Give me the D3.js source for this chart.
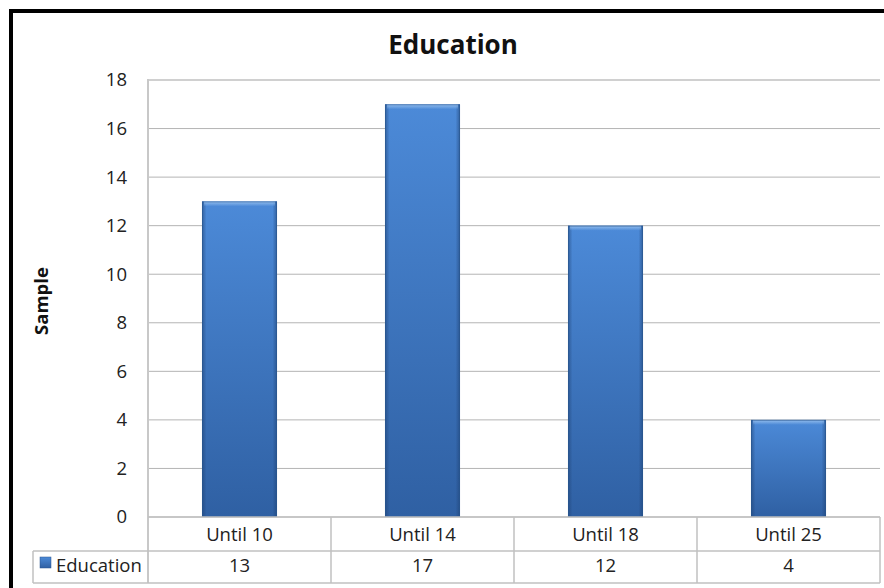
<!DOCTYPE html>
<html><head><meta charset="utf-8">
<script src="https://cdn.jsdelivr.net/npm/d3@7"></script>
<style>
html,body{margin:0;padding:0;background:#fff;}
svg{display:block;font-family:"Open Sans","Noto Sans",sans-serif;}
</style></head>
<body>
<svg id="chart" width="884" height="588"></svg>
<script>
const categories = ["Until 10", "Until 14", "Until 18", "Until 25"];
const values = [13, 17, 12, 4];
const seriesName = "Education";
const yTicks = [0, 2, 4, 6, 8, 10, 12, 14, 16, 18];
const title = "Education";
const yTitle = "Sample";

const svg = d3.select("#chart");
const W = 884, H = 588;
const plot = {left: 148, right: 880, top: 80, bottom: 517};
const row1 = 551, row2 = 583;
const FONT = "'Open Sans','Noto Sans',sans-serif";
const FS = 18.5;

svg.append("rect").attr("width", W).attr("height", H).attr("fill", "#fff");

const defs = svg.append("defs");
const gv = defs.append("linearGradient").attr("id", "gv").attr("x1", 0).attr("y1", 0).attr("x2", 0).attr("y2", 1);
gv.append("stop").attr("offset", "0%").attr("stop-color", "#4c8ad8");
gv.append("stop").attr("offset", "100%").attr("stop-color", "#2f60a3");
const gh = defs.append("linearGradient").attr("id", "gh").attr("x1", 0).attr("y1", 0).attr("x2", 1).attr("y2", 0);
gh.append("stop").attr("offset", "0%").attr("stop-color", "#1d3f70").attr("stop-opacity", 0.55);
gh.append("stop").attr("offset", "6%").attr("stop-color", "#1d3f70").attr("stop-opacity", 0.0);
gh.append("stop").attr("offset", "94%").attr("stop-color", "#1d3f70").attr("stop-opacity", 0.0);
gh.append("stop").attr("offset", "100%").attr("stop-color", "#1d3f70").attr("stop-opacity", 0.55);
const gt = defs.append("linearGradient").attr("id", "gt").attr("x1", 0).attr("y1", 0).attr("x2", 0).attr("y2", 1);
gt.append("stop").attr("offset", "0%").attr("stop-color", "#9cc4f0").attr("stop-opacity", 0.9);
gt.append("stop").attr("offset", "100%").attr("stop-color", "#9cc4f0").attr("stop-opacity", 0);

const x = d3.scaleBand().domain(categories).range([plot.left, plot.right]).paddingInner(0.59).paddingOuter(0.295);
const y = d3.scaleLinear().domain([0, 18]).range([plot.bottom, plot.top]);
const cellW = x.step();
const cellX = d => x(d) - (x.step() - x.bandwidth()) / 2;

// gridlines
svg.append("g").selectAll("line").data(yTicks).join("line")
  .attr("x1", plot.left).attr("x2", plot.right)
  .attr("y1", d => y(d)).attr("y2", d => y(d))
  .attr("stroke", d => d === 18 ? "#d0d0d0" : "#b4b4b4").attr("stroke-width", d => d === 18 ? 2 : 1);

// left axis line
svg.append("line").attr("x1", plot.left).attr("x2", plot.left).attr("y1", plot.top - 1).attr("y2", row2)
  .attr("stroke", "#c8c8c8").attr("stroke-width", 2);

// y tick labels via axis
const yAxis = svg.append("g").attr("transform", `translate(${plot.left},0)`)
  .call(d3.axisLeft(y).tickValues(yTicks).tickSize(0).tickPadding(21));
yAxis.select(".domain").remove();
yAxis.selectAll("text").attr("font-size", FS).attr("fill", "#222").attr("font-family", FONT);

// bars
const bars = svg.append("g");
bars.selectAll("rect.b").data(values).join("rect").attr("class", "b")
  .attr("x", (d, i) => x(categories[i])).attr("width", x.bandwidth())
  .attr("y", d => y(d)).attr("height", d => plot.bottom - y(d))
  .attr("fill", "url(#gv)");
bars.selectAll("rect.h").data(values).join("rect").attr("class", "h")
  .attr("x", (d, i) => x(categories[i])).attr("width", x.bandwidth())
  .attr("y", d => y(d)).attr("height", d => plot.bottom - y(d))
  .attr("fill", "url(#gh)");
bars.selectAll("rect.t").data(values).join("rect").attr("class", "t")
  .attr("x", (d, i) => x(categories[i]) + 2).attr("width", x.bandwidth() - 4)
  .attr("y", d => y(d)).attr("height", 5)
  .attr("fill", "url(#gt)");
bars.selectAll("rect.o").data(values).join("rect").attr("class", "o")
  .attr("x", (d, i) => x(categories[i]) + 0.5).attr("width", x.bandwidth() - 1)
  .attr("y", d => y(d) + 0.5).attr("height", d => plot.bottom - y(d) - 1)
  .attr("fill", "none").attr("stroke", "#2a5690").attr("stroke-opacity", 0.6);

// data table
const tbl = svg.append("g");
const lineC = "#c0c0c0";
const tableLeft = 33;
tbl.append("line").attr("x1", plot.left).attr("x2", plot.right).attr("y1", plot.bottom).attr("y2", plot.bottom).attr("stroke", lineC).attr("stroke-width", 1.5);
[row1, row2].forEach(yy => {
  tbl.append("line").attr("x1", tableLeft).attr("x2", plot.right).attr("y1", yy).attr("y2", yy).attr("stroke", lineC).attr("stroke-width", 1.5);
});
tbl.append("line").attr("x1", tableLeft).attr("x2", tableLeft).attr("y1", row1).attr("y2", row2).attr("stroke", lineC).attr("stroke-width", 1.5);
tbl.selectAll("line.v").data(categories).join("line").attr("class", "v")
  .attr("x1", d => cellX(d) + cellW).attr("x2", d => cellX(d) + cellW)
  .attr("y1", plot.bottom).attr("y2", row2)
  .attr("stroke", lineC).attr("stroke-width", 1.5);
tbl.selectAll("text.c").data(categories).join("text").attr("class", "c")
  .attr("x", d => x(d) + x.bandwidth() / 2).attr("y", 541)
  .attr("text-anchor", "middle").attr("font-size", FS).attr("fill", "#222").text(d => d);
tbl.selectAll("text.v").data(values).join("text").attr("class", "v")
  .attr("x", (d, i) => x(categories[i]) + x.bandwidth() / 2).attr("y", 572)
  .attr("text-anchor", "middle").attr("font-size", FS).attr("fill", "#222").text(d => d);
// legend key
tbl.append("rect").attr("x", 40).attr("y", 557).attr("width", 11).attr("height", 11)
  .attr("fill", "url(#gv)").attr("stroke", "#2a5690").attr("stroke-width", 0.5);
tbl.append("text").attr("x", 56).attr("y", 572).attr("font-size", FS).attr("fill", "#222").text(seriesName);

// titles
svg.append("text").attr("x", 453).attr("y", 54).attr("text-anchor", "middle")
  .attr("font-size", 26).attr("font-weight", "bold").attr("fill", "#111").text(title);
svg.append("text").attr("transform", `translate(48,301) rotate(-90)`)
  .attr("text-anchor", "middle").attr("font-size", 18.5).attr("font-weight", "bold").attr("fill", "#111").text(yTitle);

// outer black border (top and left visible)
svg.append("rect").attr("x", 11).attr("y", 11).attr("width", W + 20).attr("height", H + 20)
  .attr("fill", "none").attr("stroke", "#000").attr("stroke-width", 4);
</script>
</body></html>
